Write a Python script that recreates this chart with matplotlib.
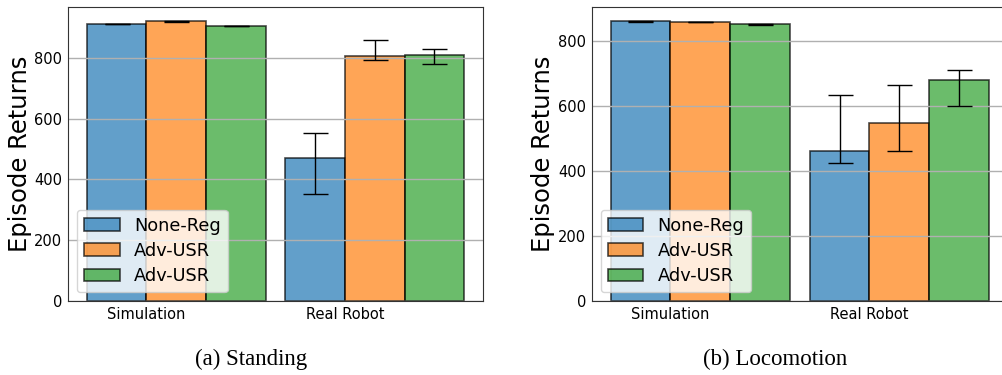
import numpy as np
import matplotlib
matplotlib.use("Agg")
import matplotlib.pyplot as plt

groups = ["Simulation", "Real Robot"]
methods = ["None-Reg", "Adv-USR", "Adv-USR"]
colors = ["tab:blue", "tab:orange", "tab:green"]

# standing: mean, lower err, upper err for each method over the two groups
stand_mean = [[911, 472], [920, 805], [905, 810]]
stand_lo = [[1, 120], [1, 11], [1, 30]]
stand_hi = [[1, 80], [1, 54], [1, 20]]

# locomotion
loco_mean = [[860, 461], [858, 547], [851, 681]]
loco_lo = [[1, 37], [1, 85], [1, 81]]
loco_hi = [[1, 173], [1, 117], [1, 29]]

captions = ["(a) Standing", "(b) Locomotion"]

fig = plt.figure(figsize=(10.02, 3.75), dpi=100)
ax1 = fig.add_axes([0.0679, 0.1973, 0.4142, 0.784])
ax2 = fig.add_axes([0.5905, 0.1973, 0.4152, 0.784])

w = 0.3
x = np.arange(len(groups))

def draw(ax, mean, lo, hi):
    for i in range(len(methods)):
        ax.bar(x + (i - 1) * w, mean[i], w, yerr=[lo[i], hi[i]],
               color=colors[i], alpha=0.7, edgecolor="black", linewidth=1.2,
               capsize=9, error_kw=dict(elinewidth=1, capthick=1),
               label=methods[i])
    ax.set_xticks(x - w / 2)
    ax.set_xticklabels(groups)
    ax.tick_params(length=0, labelsize=10.5, pad=4)
    ax.yaxis.grid(True, color="#b0b0b0", linewidth=1)
    ax.set_ylabel("Episode Returns", fontsize=17.5, labelpad=2)
    ax.legend(loc="lower left", fontsize=12.8, labelspacing=0.4)
    for s in ax.spines.values():
        s.set_color("#333333")

draw(ax1, stand_mean, stand_lo, stand_hi)
draw(ax2, loco_mean, loco_lo, loco_hi)

fig.text(0.2505, 0.026, captions[0], ha="center", va="baseline", fontsize=16.5, family="Liberation Serif")
fig.text(0.7735, 0.026, captions[1], ha="center", va="baseline", fontsize=16.5, family="Liberation Serif")

fig.savefig("out.png", dpi=100)
